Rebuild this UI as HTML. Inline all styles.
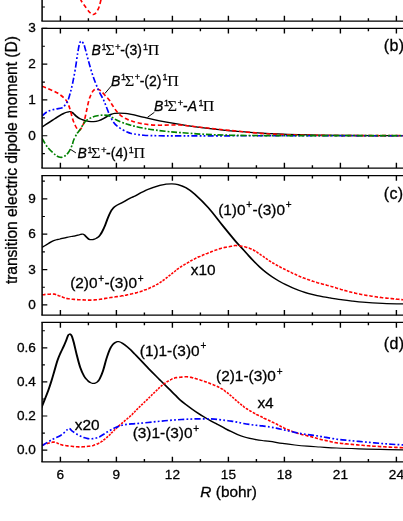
<!DOCTYPE html>
<html><head><meta charset="utf-8"><title>chart</title><style>html,body{margin:0;padding:0;background:#fff;}body{width:403px;height:521px;overflow:hidden;font-family:"Liberation Sans",sans-serif;}</style></head><body>
<svg width="403" height="521" viewBox="0 0 403 521" style="display:block;will-change:transform;opacity:0.999">
<rect width="403" height="521" fill="#fff"/>
<defs>
<clipPath id="cpa"><rect x="42.10" y="-118.50" width="372.90" height="139.50"/></clipPath>
<clipPath id="cpb"><rect x="42.10" y="28.40" width="372.90" height="139.60"/></clipPath>
<clipPath id="cpc"><rect x="42.10" y="175.65" width="372.90" height="139.55"/></clipPath>
<clipPath id="cpd"><rect x="42.10" y="322.45" width="372.90" height="139.45"/></clipPath>
</defs>
<path d="M78.30 -8.00 C78.72 -6.67 79.53 -2.57 80.80 0.00 C82.07 2.57 84.43 5.37 85.90 7.40 C87.37 9.43 88.62 11.10 89.60 12.20 C90.58 13.30 91.18 13.62 91.80 14.00 C92.42 14.38 92.80 14.52 93.30 14.50 C93.80 14.48 94.25 14.33 94.80 13.90 C95.35 13.47 95.95 12.88 96.60 11.90 C97.25 10.92 98.15 9.32 98.70 8.00 C99.25 6.68 99.53 5.33 99.90 4.00 C100.27 2.67 100.45 2.00 100.90 0.00 C101.35 -2.00 102.32 -6.67 102.60 -8.00" fill="none" stroke="#ff0000" stroke-width="1.65" stroke-dasharray="4.2 2.6" clip-path="url(#cpa)" stroke-linejoin="round"/>
<g clip-path="url(#cpb)"><g transform="scale(1 0.62500)"><path d="M42.00 203.36 C42.83 202.48 45.27 199.89 47.00 198.08 C48.73 196.27 50.73 194.21 52.40 192.48 C54.07 190.75 55.55 189.17 57.00 187.68 C58.45 186.19 59.93 184.59 61.10 183.52 C62.27 182.45 63.07 181.92 64.00 181.28 C64.93 180.64 65.95 180.08 66.70 179.68 C67.45 179.28 67.98 179.07 68.50 178.88 C69.02 178.69 69.38 178.53 69.80 178.56 C70.22 178.59 70.58 178.80 71.00 179.04 C71.42 179.28 71.80 179.44 72.30 180.00 C72.80 180.56 73.38 181.47 74.00 182.40 C74.62 183.33 75.00 184.32 76.00 185.60 C77.00 186.88 78.72 188.99 80.00 190.08 C81.28 191.17 82.25 191.49 83.70 192.16 C85.15 192.83 87.05 193.65 88.70 194.08 C90.35 194.51 91.95 194.85 93.60 194.72 C95.25 194.59 96.93 194.11 98.60 193.28 C100.27 192.45 102.15 190.99 103.60 189.76 C105.05 188.53 106.07 187.04 107.30 185.92 C108.53 184.80 109.77 183.79 111.00 183.04 C112.23 182.29 113.25 181.81 114.70 181.44 C116.15 181.07 118.03 180.80 119.70 180.80 C121.37 180.80 122.98 181.12 124.70 181.44 C126.42 181.76 127.50 181.95 130.00 182.72 C132.50 183.49 136.43 184.88 139.70 186.08 C142.97 187.28 146.28 188.72 149.60 189.92 C152.92 191.12 156.28 192.21 159.60 193.28 C162.92 194.35 166.10 195.36 169.50 196.32 C172.90 197.28 175.00 197.81 180.00 199.04 C185.00 200.27 190.47 201.87 199.50 203.68 C208.53 205.49 222.45 208.24 234.20 209.92 C245.95 211.60 257.37 212.77 270.00 213.76 C282.63 214.75 296.67 215.36 310.00 215.84 C323.33 216.32 334.50 216.43 350.00 216.64 C365.50 216.85 392.00 217.04 403.00 217.12 C414.00 217.20 413.83 217.12 416.00 217.12" fill="none" stroke="#000" stroke-width="2.00" stroke-linejoin="round"/></g></g>
<path d="M42.00 86.20 C42.83 86.53 45.27 87.48 47.00 88.20 C48.73 88.92 50.73 89.73 52.40 90.50 C54.07 91.27 55.55 91.97 57.00 92.80 C58.45 93.63 59.93 94.63 61.10 95.50 C62.27 96.37 63.07 97.07 64.00 98.00 C64.93 98.93 65.98 100.02 66.70 101.10 C67.42 102.18 67.78 103.27 68.30 104.50 C68.82 105.73 69.30 106.92 69.80 108.50 C70.30 110.08 70.78 112.13 71.30 114.00 C71.82 115.87 72.28 117.87 72.90 119.70 C73.52 121.53 74.28 123.45 75.00 125.00 C75.72 126.55 76.60 128.13 77.20 129.00 C77.80 129.87 78.13 130.03 78.60 130.20 C79.07 130.37 79.43 130.53 80.00 130.00 C80.57 129.47 81.33 128.30 82.00 127.00 C82.67 125.70 83.25 124.87 84.00 122.20 C84.75 119.53 85.67 114.72 86.50 111.00 C87.33 107.28 88.27 102.57 89.00 99.90 C89.73 97.23 90.23 96.48 90.90 95.00 C91.57 93.52 92.32 91.95 93.00 91.00 C93.68 90.05 94.37 89.65 95.00 89.30 C95.63 88.95 96.13 88.85 96.80 88.90 C97.47 88.95 98.22 89.17 99.00 89.60 C99.78 90.03 100.58 90.63 101.50 91.50 C102.42 92.37 103.22 93.38 104.50 94.80 C105.78 96.22 107.90 98.30 109.20 100.00 C110.50 101.70 111.17 103.25 112.30 105.00 C113.43 106.75 114.77 108.90 116.00 110.50 C117.23 112.10 118.47 113.45 119.70 114.60 C120.93 115.75 122.17 116.63 123.40 117.40 C124.63 118.17 126.00 118.70 127.10 119.20 C128.20 119.70 128.90 119.98 130.00 120.40 C131.10 120.82 131.75 121.17 133.70 121.70 C135.65 122.23 139.05 123.10 141.70 123.60 C144.35 124.10 146.62 124.43 149.60 124.70 C152.58 124.97 156.28 125.15 159.60 125.20 C162.92 125.25 166.10 125.03 169.50 125.00 C172.90 124.97 176.25 124.78 180.00 125.00 C183.75 125.22 186.68 125.72 192.00 126.30 C197.32 126.88 205.57 127.82 211.90 128.50 C218.23 129.18 220.32 129.48 230.00 130.40 C239.68 131.32 256.67 133.20 270.00 134.00 C283.33 134.80 296.67 134.93 310.00 135.20 C323.33 135.47 334.50 135.52 350.00 135.60 C365.50 135.68 392.00 135.68 403.00 135.70 C414.00 135.72 413.83 135.70 416.00 135.70" fill="none" stroke="#ff0000" stroke-width="1.65" stroke-dasharray="4.2 2.6" clip-path="url(#cpb)" stroke-linejoin="round"/>
<path d="M42.00 116.00 C42.90 115.27 45.25 112.73 47.40 111.60 C49.55 110.47 52.52 109.82 54.90 109.20 C57.28 108.58 60.05 108.53 61.70 107.90 C63.35 107.27 63.77 106.63 64.80 105.40 C65.83 104.17 66.97 102.67 67.90 100.50 C68.83 98.33 69.57 95.50 70.40 92.40 C71.23 89.30 72.07 85.90 72.90 81.90 C73.73 77.90 74.60 73.22 75.40 68.40 C76.20 63.58 77.05 56.98 77.70 53.00 C78.35 49.02 78.87 46.37 79.30 44.50 C79.73 42.63 80.00 42.37 80.30 41.80 C80.60 41.23 80.82 41.15 81.10 41.10 C81.38 41.05 81.65 41.15 82.00 41.50 C82.35 41.85 82.77 42.38 83.20 43.20 C83.63 44.02 83.73 43.48 84.60 46.40 C85.47 49.32 87.00 55.75 88.40 60.70 C89.80 65.65 91.33 71.23 93.00 76.10 C94.67 80.97 96.63 85.92 98.40 89.90 C100.17 93.88 102.32 97.28 103.60 100.00 C104.88 102.72 105.28 104.13 106.10 106.20 C106.92 108.27 107.68 110.43 108.50 112.40 C109.32 114.37 110.07 116.23 111.00 118.00 C111.93 119.77 113.07 121.65 114.10 123.00 C115.13 124.35 115.85 125.02 117.20 126.10 C118.55 127.18 120.55 128.52 122.20 129.50 C123.85 130.48 125.80 131.40 127.10 132.00 C128.40 132.60 128.90 132.78 130.00 133.10 C131.10 133.42 131.42 133.55 133.70 133.90 C135.98 134.25 139.38 134.88 143.70 135.20 C148.02 135.52 153.55 135.70 159.60 135.80 C165.65 135.90 168.27 135.80 180.00 135.80 C191.73 135.80 192.83 135.82 230.00 135.80 C267.17 135.78 372.00 135.72 403.00 135.70 C434.00 135.68 413.83 135.70 416.00 135.70" fill="none" stroke="#0000ff" stroke-width="1.65" stroke-dasharray="6.2 2.2 1.8 2.2 1.8 2.2" clip-path="url(#cpb)" stroke-linejoin="round"/>
<path d="M42.00 138.30 C42.90 139.75 45.25 144.30 47.40 147.00 C49.55 149.70 52.97 152.83 54.90 154.50 C56.83 156.17 57.75 156.53 59.00 157.00 C60.25 157.47 61.32 157.55 62.40 157.30 C63.48 157.05 64.57 156.23 65.50 155.50 C66.43 154.77 67.17 154.00 68.00 152.90 C68.83 151.80 69.75 150.38 70.50 148.90 C71.25 147.42 71.97 145.48 72.50 144.00 C73.03 142.52 72.92 141.78 73.70 140.00 C74.48 138.22 76.15 135.00 77.20 133.30 C78.25 131.60 78.92 131.42 80.00 129.80 C81.08 128.18 82.47 125.28 83.70 123.60 C84.93 121.92 85.95 120.77 87.40 119.70 C88.85 118.63 90.73 117.85 92.40 117.20 C94.07 116.55 95.75 116.15 97.40 115.80 C99.05 115.45 100.65 115.17 102.30 115.10 C103.95 115.03 105.85 115.13 107.30 115.40 C108.75 115.67 109.55 115.98 111.00 116.70 C112.45 117.42 114.35 118.82 116.00 119.70 C117.65 120.58 119.25 121.32 120.90 122.00 C122.55 122.68 124.38 123.30 125.90 123.80 C127.42 124.30 128.37 124.55 130.00 125.00 C131.63 125.45 133.08 125.90 135.70 126.50 C138.32 127.10 142.38 128.00 145.70 128.60 C149.02 129.20 151.97 129.62 155.60 130.10 C159.23 130.58 163.43 131.08 167.50 131.50 C171.57 131.92 173.85 132.13 180.00 132.60 C186.15 133.07 196.07 133.87 204.40 134.30 C212.73 134.73 219.07 134.98 230.00 135.20 C240.93 135.42 241.17 135.52 270.00 135.60 C298.83 135.68 378.67 135.68 403.00 135.70 C427.33 135.72 413.83 135.70 416.00 135.70" fill="none" stroke="#008000" stroke-width="1.65" stroke-dasharray="6 2 1.8 1.8" clip-path="url(#cpb)" stroke-linejoin="round"/>
<g clip-path="url(#cpc)"><g transform="scale(1 0.62500)"><path d="M41.80 396.00 C42.62 395.23 45.33 392.69 46.70 391.36 C48.07 390.03 48.88 389.01 50.00 388.00 C51.12 386.99 52.32 386.00 53.40 385.28 C54.48 384.56 55.38 384.16 56.50 383.68 C57.62 383.20 58.38 383.04 60.10 382.40 C61.82 381.76 64.57 380.61 66.80 379.84 C69.03 379.07 71.63 378.35 73.50 377.76 C75.37 377.17 76.87 376.75 78.00 376.32 C79.13 375.89 79.63 375.49 80.30 375.20 C80.97 374.91 81.48 374.61 82.00 374.56 C82.52 374.51 82.95 374.59 83.40 374.88 C83.85 375.17 84.22 375.63 84.70 376.32 C85.18 377.01 85.75 378.16 86.30 379.04 C86.85 379.92 87.48 380.93 88.00 381.60 C88.52 382.27 88.92 382.72 89.40 383.04 C89.88 383.36 90.33 383.47 90.90 383.52 C91.47 383.57 92.17 383.55 92.80 383.36 C93.43 383.17 94.07 382.80 94.70 382.40 C95.33 382.00 95.97 381.55 96.60 380.96 C97.23 380.37 97.88 379.79 98.50 378.88 C99.12 377.97 99.70 376.85 100.30 375.52 C100.90 374.19 101.28 373.44 102.10 370.88 C102.92 368.32 104.20 364.03 105.20 360.16 C106.20 356.29 107.13 351.41 108.10 347.68 C109.07 343.95 110.20 340.11 111.00 337.76 C111.80 335.41 112.27 334.80 112.90 333.60 C113.53 332.40 114.03 331.52 114.80 330.56 C115.57 329.60 116.57 328.67 117.50 327.84 C118.43 327.01 118.32 327.36 120.40 325.60 C122.48 323.84 127.77 319.15 130.00 317.28 C132.23 315.41 130.85 316.72 133.80 314.40 C136.75 312.08 143.37 306.32 147.70 303.36 C152.03 300.40 156.75 298.08 159.80 296.64 C162.85 295.20 163.97 295.15 166.00 294.72 C168.03 294.29 170.00 293.97 172.00 294.08 C174.00 294.19 175.67 294.29 178.00 295.36 C180.33 296.43 183.22 297.95 186.00 300.48 C188.78 303.01 190.93 305.17 194.70 310.56 C198.47 315.95 203.97 324.45 208.60 332.80 C213.23 341.15 218.10 351.95 222.50 360.64 C226.90 369.33 231.88 379.09 235.00 384.96 C238.12 390.83 239.13 392.19 241.20 395.84 C243.27 399.49 245.33 403.25 247.40 406.88 C249.47 410.51 251.53 414.19 253.60 417.60 C255.67 421.01 257.73 424.32 259.80 427.36 C261.87 430.40 263.93 433.23 266.00 435.84 C268.07 438.45 270.03 440.72 272.20 443.04 C274.37 445.36 276.78 447.71 279.00 449.76 C281.22 451.81 283.27 453.57 285.50 455.36 C287.73 457.15 290.22 458.96 292.40 460.48 C294.58 462.00 296.53 463.25 298.60 464.48 C300.67 465.71 302.73 466.80 304.80 467.84 C306.87 468.88 308.93 469.84 311.00 470.72 C313.07 471.60 315.13 472.40 317.20 473.12 C319.27 473.84 321.27 474.44 323.40 475.04 C325.53 475.64 326.75 475.92 330.00 476.72 C333.25 477.52 339.10 479.00 342.90 479.84 C346.70 480.68 349.50 481.17 352.80 481.76 C356.10 482.35 357.73 482.77 362.70 483.36 C367.67 483.95 375.88 484.77 382.60 485.28 C389.32 485.79 397.43 486.16 403.00 486.40 C408.57 486.64 413.83 486.67 416.00 486.72" fill="none" stroke="#000" stroke-width="2.00" stroke-linejoin="round"/></g></g>
<path d="M42.0 294.8L42.1 294.7L43.0 294.7L44.2 294.6L45.5 294.4M47.4 294.3L47.6 294.3L48.8 294.2L50.1 294.1L51.0 294.0M52.9 294.0L52.9 294.0L54.1 294.1L55.2 294.3L56.1 294.7M57.5 295.3L57.5 295.3L58.8 295.8L59.9 296.1L60.4 296.3M61.8 296.9L61.9 296.9L63.0 297.3L64.2 297.7L64.7 297.9M66.4 298.3L66.6 298.4L68.0 298.7L69.0 298.8L69.7 298.9M71.6 299.2L71.6 299.2L72.9 299.3L74.1 299.4L75.1 299.5M77.0 299.6L77.1 299.6L78.4 299.7L79.6 299.8L80.6 299.8M82.5 299.9L82.5 299.9L83.7 299.9L84.9 300.0L86.0 300.0M87.9 300.1L87.9 300.1L89.2 300.1L90.4 300.1L91.5 300.0M93.4 300.0L93.6 300.0L94.8 299.9L96.0 299.8L97.0 299.7M98.8 299.5L99.0 299.5L100.2 299.3L101.4 299.1L102.2 299.0M104.0 298.6L104.1 298.6L105.3 298.4L106.5 298.2L107.4 298.0M109.2 297.7L109.3 297.7L110.5 297.5L111.7 297.4L112.6 297.2M114.4 297.0L114.5 297.0L115.7 296.8L117.0 296.6L117.9 296.5M119.7 296.2L119.8 296.2L121.0 296.0L122.0 295.8L123.1 295.7L123.1 295.6M124.9 295.3L124.9 295.3L126.3 295.1L127.5 294.8L128.2 294.7M129.9 294.3L130.0 294.3L131.0 294.0L132.0 293.8L133.2 293.5M134.9 293.1L134.9 293.1L136.0 292.9L137.1 292.6L138.0 292.3M139.6 291.8L139.8 291.8L140.9 291.4L142.1 291.0L142.6 290.8M144.1 290.3L144.2 290.2L145.3 289.8L146.5 289.4L146.9 289.2M148.3 288.6L148.4 288.6L149.6 288.1L150.7 287.6L151.0 287.5M152.3 286.8L152.4 286.8L153.5 286.3L154.7 285.7L154.9 285.6M156.2 285.0L156.3 284.9L157.2 284.4L158.4 283.7L158.5 283.6M159.6 282.9L159.7 282.8L160.6 282.2L161.6 281.5L161.6 281.5M162.6 280.7L162.7 280.7L163.7 280.0L164.6 279.3L164.6 279.3M165.7 278.5L165.7 278.5L166.8 277.7L167.6 277.1M168.6 276.3L168.7 276.2L169.7 275.5L170.4 274.8M171.4 274.1L171.5 274.0L172.5 273.1L173.2 272.6M174.2 271.8L174.2 271.8L175.2 271.0L176.0 270.3M177.0 269.6L177.0 269.5L177.9 268.8L178.9 268.1L178.9 268.1M180.0 267.4L180.1 267.3L181.0 266.7L182.0 266.1L182.2 266.0M183.3 265.3L183.4 265.2L184.5 264.6L185.6 263.9M186.8 263.2L186.9 263.2L187.9 262.6L189.0 262.0L189.1 261.9M190.3 261.2L190.4 261.1L191.5 260.5L192.6 259.9L192.6 259.9M193.9 259.2L194.0 259.2L195.1 258.6L196.2 258.1L196.4 258.0M197.7 257.4L197.8 257.3L199.0 256.8L200.1 256.4L200.4 256.2M201.8 255.6L201.9 255.6L203.0 255.1L204.2 254.6L204.5 254.5M205.9 253.9L206.0 253.8L207.2 253.4L208.3 252.9L208.7 252.8M210.1 252.2L210.2 252.2L211.3 251.7L212.5 251.3L212.9 251.1M214.4 250.5L214.5 250.5L215.7 250.1L216.8 249.7L217.3 249.5M218.8 249.0L218.9 249.0L220.1 248.6L221.3 248.3L221.9 248.1M223.6 247.7L223.6 247.7L224.8 247.4L226.0 247.2L226.9 247.0M228.7 246.7L228.8 246.7L230.0 246.5L231.1 246.3L232.1 246.2M233.7 245.7L233.7 245.7L235.0 245.5L236.0 245.5L237.2 245.6L237.2 245.6M239.1 245.8L239.1 245.8L240.4 246.0L241.6 246.2L242.5 246.3M244.2 246.7L244.4 246.7L245.6 247.1L246.8 247.4L247.3 247.6M248.8 248.1L248.9 248.1L250.0 248.6L251.2 249.0L251.6 249.2M252.9 249.9L253.0 249.9L254.1 250.5L255.2 251.1L255.3 251.2M256.4 251.9L256.5 251.9L257.6 252.6L258.5 253.3M259.6 254.0L259.8 254.1L260.8 254.8L261.7 255.4M262.8 256.2L262.8 256.2L263.8 256.9L264.8 257.6M265.9 258.3L266.0 258.4L267.0 259.1L267.9 259.7M269.0 260.5L269.1 260.6L270.1 261.3L271.1 261.9M272.2 262.6L272.4 262.7L273.4 263.3L274.5 263.9M275.7 264.6L275.8 264.7L276.9 265.3L277.9 265.8L278.1 265.9M279.3 266.6L279.4 266.6L280.5 267.2L281.5 267.7L281.8 267.8M283.1 268.5L283.1 268.5L284.2 269.1L285.3 269.6L285.6 269.7M286.9 270.4L286.9 270.4L288.0 271.0L289.2 271.5L289.4 271.6M290.7 272.3L290.8 272.3L291.9 272.9L293.0 273.4L293.2 273.5M294.6 274.1L294.6 274.1L295.7 274.6L296.8 275.1L297.2 275.3M298.6 275.9L298.8 276.0L299.9 276.5L301.0 276.9L301.3 277.0M302.8 277.6L302.9 277.7L304.0 278.1L305.2 278.5L305.6 278.7M307.1 279.2L307.3 279.3L308.5 279.7L309.6 280.0L310.1 280.2M311.7 280.7L311.8 280.8L312.9 281.2L314.1 281.6L314.6 281.7M316.1 282.3L316.2 282.3L317.4 282.7L318.5 283.0L319.2 283.2M320.8 283.6L320.9 283.6L322.0 283.9L323.2 284.2L324.0 284.5M325.6 284.9L325.8 284.9L326.8 285.2L328.0 285.5L328.7 285.7M330.4 286.2L330.5 286.2L331.4 286.5L332.5 286.8L333.4 287.1M335.0 287.6L335.1 287.6L336.3 288.0L337.6 288.4L338.1 288.5M339.7 289.0L339.9 289.0L341.1 289.4L342.2 289.7L342.8 289.9M344.4 290.3L344.6 290.4L345.8 290.7L347.0 291.1L347.5 291.2M349.2 291.7L349.2 291.7L350.3 292.0L351.5 292.3L352.3 292.5M354.0 292.9L354.2 292.9L355.4 293.2L356.6 293.5L357.3 293.6M359.0 294.0L359.1 294.0L360.3 294.2L361.5 294.5L362.3 294.6M364.1 295.0L364.3 295.0L365.5 295.2L366.7 295.4L367.5 295.5M369.3 295.8L369.4 295.8L370.6 296.0L371.8 296.2L372.7 296.3M374.6 296.6L374.6 296.6L375.8 296.8L377.0 297.0L378.0 297.1M379.8 297.3L380.0 297.4L381.2 297.5L382.4 297.7L383.3 297.8M385.2 298.0L385.2 298.0L386.4 298.1L387.6 298.2L388.7 298.3M390.5 298.5L390.6 298.5L391.9 298.6L393.1 298.8L394.1 298.9M395.9 299.0L396.0 299.1L397.2 299.2L398.4 299.3L399.5 299.4M401.3 299.6L401.5 299.6L402.8 299.7L404.0 299.8L404.9 299.8M406.8 300.0L406.8 300.0L408.2 300.1L409.6 300.2L410.3 300.2M412.2 300.3L412.3 300.4L413.5 300.4L414.5 300.5L415.4 300.6L415.8 300.6" fill="none" stroke="#ff0000" stroke-width="1.6" clip-path="url(#cpc)"/>
<g clip-path="url(#cpd)"><g transform="scale(1 0.62500)"><path d="M41.40 652.80 C41.52 652.27 41.47 652.19 42.10 649.60 C42.73 647.01 44.17 641.44 45.20 637.28 C46.23 633.12 47.28 629.15 48.30 624.64 C49.32 620.13 50.28 615.44 51.30 610.24 C52.32 605.04 53.37 599.04 54.40 593.44 C55.43 587.84 56.48 581.41 57.50 576.64 C58.52 571.87 59.48 568.51 60.50 564.80 C61.52 561.09 62.73 557.44 63.60 554.40 C64.47 551.36 64.98 549.39 65.70 546.56 C66.42 543.73 67.37 539.33 67.90 537.44 C68.43 535.55 68.60 535.71 68.90 535.20 C69.20 534.69 69.42 534.43 69.70 534.40 C69.98 534.37 70.27 534.53 70.60 535.04 C70.93 535.55 71.33 536.21 71.70 537.44 C72.07 538.67 72.43 540.53 72.80 542.40 C73.17 544.27 73.23 544.35 73.90 548.64 C74.57 552.93 75.75 561.63 76.80 568.16 C77.85 574.69 78.97 582.16 80.20 587.84 C81.43 593.52 82.90 598.67 84.20 602.24 C85.50 605.81 86.95 607.63 88.00 609.28 C89.05 610.93 89.75 611.47 90.50 612.16 C91.25 612.85 91.83 613.25 92.50 613.44 C93.17 613.63 93.87 613.49 94.50 613.28 C95.13 613.07 95.72 612.72 96.30 612.16 C96.88 611.60 97.42 610.99 98.00 609.92 C98.58 608.85 98.97 608.53 99.80 605.76 C100.63 602.99 101.88 598.64 103.00 593.28 C104.12 587.92 105.38 579.25 106.50 573.60 C107.62 567.95 108.68 563.04 109.70 559.36 C110.72 555.68 111.57 553.49 112.60 551.52 C113.63 549.55 115.05 548.32 115.90 547.52 C116.75 546.72 117.13 546.83 117.70 546.72 C118.27 546.61 118.52 546.45 119.30 546.88 C120.08 547.31 121.02 547.84 122.40 549.28 C123.78 550.72 126.17 553.68 127.60 555.52 C129.03 557.36 129.77 558.43 131.00 560.32 C132.23 562.21 133.52 564.43 135.00 566.88 C136.48 569.33 137.43 570.89 139.90 575.04 C142.38 579.19 146.53 586.32 149.85 591.76 C153.17 597.20 156.66 602.65 159.80 607.68 C162.94 612.71 166.17 617.92 168.70 621.92 C171.23 625.92 173.12 628.72 175.00 631.68 C176.88 634.64 178.17 637.07 180.00 639.68 C181.83 642.29 183.93 644.83 186.00 647.36 C188.07 649.89 190.32 652.51 192.40 654.88 C194.48 657.25 196.43 659.44 198.50 661.60 C200.57 663.76 202.72 665.84 204.80 667.84 C206.88 669.84 208.93 671.79 211.00 673.60 C213.07 675.41 214.87 676.75 217.20 678.72 C219.53 680.69 222.67 683.47 225.00 685.44 C227.33 687.41 229.13 688.93 231.20 690.56 C233.27 692.19 235.33 693.81 237.40 695.20 C239.47 696.59 241.53 697.84 243.60 698.88 C245.67 699.92 247.73 700.69 249.80 701.44 C251.87 702.19 253.93 702.80 256.00 703.36 C258.07 703.92 259.87 704.32 262.20 704.80 C264.53 705.28 266.63 705.47 270.00 706.24 C273.37 707.01 278.27 708.48 282.40 709.44 C286.53 710.40 290.67 711.25 294.80 712.00 C298.93 712.75 303.00 713.39 307.20 713.92 C311.40 714.45 315.07 714.72 320.00 715.20 C324.93 715.68 330.35 716.32 336.80 716.80 C343.25 717.28 351.42 717.71 358.70 718.08 C365.98 718.45 373.12 718.76 380.50 719.04 C387.88 719.32 397.08 719.60 403.00 719.76 C408.92 719.92 413.83 719.96 416.00 720.00" fill="none" stroke="#000" stroke-width="2.00" stroke-linejoin="round"/></g></g>
<path d="M42.0 445.1L42.1 445.1L42.9 444.8L44.0 444.5L45.1 444.2M46.7 443.7L46.7 443.7L48.1 443.3L49.4 443.0L49.8 442.9M51.5 442.4L51.7 442.4L52.8 442.1L53.8 442.0L54.8 442.1M56.4 442.6L56.4 442.6L57.4 443.1L58.5 443.7L58.8 443.9M60.2 444.5L60.3 444.5L61.5 444.8L62.6 445.1L63.4 445.2M65.2 445.5L65.3 445.5L66.5 445.7L67.8 445.9L68.7 446.0M70.6 446.2L70.7 446.2L71.8 446.3L73.0 446.5L74.1 446.6M75.9 446.7L76.1 446.7L77.3 446.8L78.5 446.9L79.5 446.9M81.4 446.9L81.6 446.9L82.9 446.8L84.2 446.7L85.0 446.6M86.8 446.5L86.9 446.5L88.1 446.3L89.2 446.2L90.3 446.0M92.1 445.7L92.2 445.7L93.3 445.4L94.3 445.0L95.1 444.8M96.7 444.3L96.8 444.2L97.8 443.8L99.0 443.2L99.3 443.1M100.4 442.3L100.5 442.3L101.4 441.7L102.4 441.0L102.4 440.9M103.4 440.2L103.5 440.1L104.6 439.3L105.3 438.7M106.3 437.9L106.4 437.8L107.4 436.9L108.0 436.4M108.9 435.6L109.0 435.5L109.9 434.7L110.5 434.1M111.3 433.3L111.3 433.2L112.2 432.3L112.8 431.7M113.6 430.9L113.6 430.9L114.5 430.0L115.1 429.3M116.0 428.5L116.1 428.5L117.0 427.6L117.7 427.0M118.6 426.2L118.6 426.1L119.5 425.3L120.3 424.7M121.2 423.9L121.2 423.9L122.1 423.1L122.9 422.4M123.8 421.6L124.0 421.5L124.9 420.7L125.6 420.1M126.5 419.3L126.5 419.3L127.5 418.5L128.3 417.8M129.2 417.0L129.3 417.0L130.2 416.2L130.9 415.5M131.8 414.7L131.9 414.7L132.8 413.7L133.4 413.2M134.1 412.4L134.2 412.3L135.0 411.5L135.6 410.8M136.4 410.0L136.5 409.9L137.4 409.0L138.0 408.4M138.8 407.6L138.9 407.5L139.8 406.7L140.4 406.1M141.2 405.3L141.3 405.2L142.2 404.4L142.8 403.7M143.7 402.9L143.7 402.9L144.6 402.0L145.3 401.4M146.1 400.6L146.3 400.4L147.2 399.6L147.7 399.0M148.6 398.2L148.7 398.1L149.5 397.3L150.1 396.7M151.0 395.9L151.0 395.9L151.8 395.0L152.5 394.3M153.3 393.5L153.4 393.4L154.3 392.6L154.9 392.0M155.8 391.2L155.9 391.1L156.8 390.2L157.4 389.6M158.2 388.8L158.3 388.8L159.1 387.9L159.9 387.3M160.8 386.5L160.8 386.5L161.7 385.7L162.5 385.0M163.5 384.2L163.6 384.2L164.7 383.4L165.5 382.8M166.6 382.1L166.7 382.0L167.7 381.4L168.7 380.8L168.8 380.7M170.0 380.0L170.1 380.0L171.3 379.4L172.4 378.8L172.5 378.8M174.0 378.2L174.1 378.2L175.2 377.8L176.4 377.6L177.2 377.5M179.1 377.4L179.1 377.4L180.4 377.3L181.5 377.1L182.6 377.0M184.5 376.8L184.6 376.8L185.8 376.8L187.0 376.8L188.1 376.9M189.9 377.2L190.0 377.2L191.2 377.4L192.4 377.7L193.2 377.9M194.8 378.3L194.9 378.4L196.1 378.7L197.2 379.1L197.8 379.3M199.4 379.8L199.6 379.8L200.7 380.2L201.9 380.6L202.4 380.8M203.9 381.3L204.0 381.3L205.2 381.7L206.3 382.1L206.8 382.3M208.3 382.9L208.4 382.9L209.5 383.3L210.6 383.8L211.1 383.9M212.6 384.5L212.7 384.5L213.8 385.0L214.9 385.4L215.4 385.6M216.8 386.2L216.8 386.2L217.9 386.7L219.0 387.3L219.3 387.4M220.5 388.1L220.5 388.1L221.6 388.8L222.7 389.4L222.7 389.5M223.8 390.2L223.9 390.2L224.8 390.9L225.8 391.6L225.9 391.6M226.9 392.4L226.9 392.4L227.8 393.1L228.7 393.9M229.7 394.6L229.8 394.8L230.7 395.5L231.4 396.1M232.3 396.9L232.4 397.0L233.3 397.8L234.0 398.5M234.9 399.3L234.9 399.3L235.8 400.1L236.6 400.8M237.5 401.6L237.6 401.6L238.6 402.5L239.2 403.1M240.2 403.9L240.3 404.0L241.2 404.7L242.0 405.3M242.9 406.1L243.0 406.1L243.9 406.8L244.9 407.5M246.0 408.3L246.1 408.4L247.1 409.0L248.1 409.7M249.3 410.4L249.3 410.4L250.3 411.0L251.4 411.6L251.5 411.7M252.8 412.4L252.8 412.4L253.9 413.0L254.9 413.5L255.2 413.7M256.5 414.3L256.5 414.4L257.6 414.9L258.7 415.5L258.9 415.6M260.3 416.2L260.4 416.3L261.5 416.8L262.6 417.4L262.8 417.5M264.1 418.1L264.1 418.2L265.2 418.7L266.3 419.2L266.6 419.3M268.0 420.0L268.0 420.0L269.1 420.5L270.1 421.0L270.5 421.2M271.9 421.8L272.0 421.9L273.2 422.4L274.3 423.0L274.4 423.0M275.8 423.7L275.9 423.7L277.0 424.3L278.1 424.9L278.2 424.9M279.4 425.6L279.5 425.7L280.5 426.2L281.5 426.8L281.8 426.9M283.1 427.6L283.3 427.6L284.4 428.2L285.5 428.7L285.7 428.8M287.1 429.4L287.1 429.4L288.2 429.8L289.4 430.3L289.8 430.5M291.3 431.1L291.4 431.1L292.5 431.5L293.7 431.9L294.2 432.1M295.7 432.6L295.8 432.6L296.9 433.0L298.1 433.4L298.8 433.6M300.4 434.0L300.4 434.0L301.6 434.4L302.7 434.7L303.5 434.9M305.2 435.3L305.3 435.3L306.4 435.6L307.6 435.9L308.4 436.1M310.1 436.5L310.2 436.5L311.4 436.8L312.6 437.1L313.3 437.3M314.9 437.7L314.9 437.7L316.1 438.1L317.3 438.4L318.0 438.6M319.6 439.1L319.6 439.1L320.8 439.4L321.8 439.7L322.8 439.9M324.5 440.3L324.6 440.3L326.1 440.6L327.0 440.8L327.8 441.0M329.5 441.4L329.7 441.4L330.9 441.7L332.2 442.0L332.8 442.1M334.6 442.4L334.7 442.5L336.0 442.7L337.2 442.9L338.0 443.0M339.8 443.2L340.0 443.2L341.2 443.4L342.4 443.5L343.3 443.6M345.2 443.7L345.2 443.8L346.4 443.9L347.6 444.0L348.7 444.1M350.6 444.3L350.6 444.3L351.8 444.4L353.1 444.5L354.1 444.6M356.0 444.8L356.1 444.8L357.3 444.9L358.5 445.0L359.5 445.1M361.4 445.2L361.5 445.2L362.7 445.3L363.9 445.5L364.9 445.5M366.8 445.7L367.0 445.7L368.2 445.8L369.4 445.9L370.4 446.0M372.2 446.1L372.4 446.1L373.6 446.2L374.8 446.3L375.8 446.3M377.7 446.4L377.9 446.4L379.1 446.5L380.3 446.6L381.3 446.6M383.1 446.8L383.3 446.8L384.5 446.8L385.7 446.9L386.7 447.0M388.6 447.1L388.7 447.1L390.0 447.1L391.2 447.2L392.2 447.2M394.1 447.3L394.1 447.3L395.3 447.4L396.5 447.4L397.7 447.5M399.6 447.6L399.7 447.6L400.9 447.6L402.2 447.7L403.1 447.7M405.0 447.8L405.1 447.8L406.4 447.8L407.8 447.9L408.6 447.9M410.5 448.0L410.6 448.0L411.9 448.0L413.1 448.1L414.1 448.1" fill="none" stroke="#ff0000" stroke-width="1.6" clip-path="url(#cpd)"/>
<path d="M42.00 445.70 C43.65 444.70 48.73 441.45 51.90 439.70 C55.07 437.95 58.65 436.68 61.00 435.20 C63.35 433.72 64.88 431.80 66.00 430.80 C67.12 429.80 67.22 429.58 67.70 429.20 C68.18 428.82 68.48 428.53 68.90 428.50 C69.32 428.47 69.70 428.62 70.20 429.00 C70.70 429.38 70.62 429.83 71.90 430.80 C73.18 431.77 75.92 433.67 77.90 434.80 C79.88 435.93 82.12 436.97 83.80 437.60 C85.48 438.23 86.67 438.40 88.00 438.60 C89.33 438.80 90.55 438.87 91.80 438.80 C93.05 438.73 94.18 438.53 95.50 438.20 C96.82 437.87 97.68 437.87 99.70 436.80 C101.72 435.73 104.95 433.35 107.60 431.80 C110.25 430.25 112.95 428.65 115.60 427.50 C118.25 426.35 120.85 425.50 123.50 424.90 C126.15 424.30 128.75 424.17 131.50 423.90 C134.25 423.63 136.52 423.62 140.00 423.30 C143.48 422.98 148.27 422.42 152.40 422.00 C156.53 421.58 160.67 421.17 164.80 420.80 C168.93 420.43 173.07 420.08 177.20 419.80 C181.33 419.52 185.47 419.27 189.60 419.10 C193.73 418.93 197.87 418.80 202.00 418.80 C206.13 418.80 210.57 418.83 214.40 419.10 C218.23 419.37 222.20 420.07 225.00 420.40 C227.80 420.73 229.13 420.80 231.20 421.10 C233.27 421.40 235.33 421.80 237.40 422.20 C239.47 422.60 241.53 423.12 243.60 423.50 C245.67 423.88 247.73 424.20 249.80 424.50 C251.87 424.80 253.93 425.07 256.00 425.30 C258.07 425.53 259.87 425.62 262.20 425.90 C264.53 426.18 267.67 426.63 270.00 427.00 C272.33 427.37 274.13 427.68 276.20 428.10 C278.27 428.52 280.33 429.02 282.40 429.50 C284.47 429.98 286.53 430.52 288.60 431.00 C290.67 431.48 292.73 431.97 294.80 432.40 C296.87 432.83 298.93 433.25 301.00 433.60 C303.07 433.95 305.13 434.22 307.20 434.50 C309.27 434.78 311.27 435.00 313.40 435.30 C315.53 435.60 317.92 435.95 320.00 436.30 C322.08 436.65 323.10 436.92 325.90 437.40 C328.70 437.88 333.15 438.70 336.80 439.20 C340.45 439.70 344.15 440.03 347.80 440.40 C351.45 440.77 355.07 441.07 358.70 441.40 C362.33 441.73 365.97 442.07 369.60 442.40 C373.23 442.73 376.87 443.10 380.50 443.40 C384.13 443.70 387.65 443.95 391.40 444.20 C395.15 444.45 398.90 444.67 403.00 444.90 C407.10 445.13 413.83 445.48 416.00 445.60" fill="none" stroke="#0000ff" stroke-width="1.65" stroke-dasharray="6.2 2.2 1.8 2.2 1.8 2.2" clip-path="url(#cpd)" stroke-linejoin="round"/>
<path d="M41.35 -118.50H415.00M41.35 21.00H415.00M41.35 28.40H415.00M41.35 168.00H415.00M41.35 175.65H415.00M41.35 315.20H415.00M41.35 322.45H415.00M41.35 461.90H415.00" stroke="#000" stroke-width="1.25" fill="none"/>
<path d="M42.10 -118.50V21.00M415.00 -118.50V21.00M42.10 28.40V168.00M415.00 28.40V168.00M42.10 175.65V315.20M415.00 175.65V315.20M42.10 322.45V461.90M415.00 322.45V461.90" stroke="#000" stroke-width="1.50" fill="none"/>
<path d="M60.40 -118.50v5.20M60.40 21.00v-5.20M116.40 -118.50v5.20M116.40 21.00v-5.20M172.40 -118.50v5.20M172.40 21.00v-5.20M228.40 -118.50v5.20M228.40 21.00v-5.20M284.40 -118.50v5.20M284.40 21.00v-5.20M340.40 -118.50v5.20M340.40 21.00v-5.20M396.40 -118.50v5.20M396.40 21.00v-5.20M88.40 -118.50v2.80M88.40 21.00v-2.80M144.40 -118.50v2.80M144.40 21.00v-2.80M200.40 -118.50v2.80M200.40 21.00v-2.80M256.40 -118.50v2.80M256.40 21.00v-2.80M312.40 -118.50v2.80M312.40 21.00v-2.80M368.40 -118.50v2.80M368.40 21.00v-2.80M60.40 28.40v5.20M60.40 168.00v-5.20M116.40 28.40v5.20M116.40 168.00v-5.20M172.40 28.40v5.20M172.40 168.00v-5.20M228.40 28.40v5.20M228.40 168.00v-5.20M284.40 28.40v5.20M284.40 168.00v-5.20M340.40 28.40v5.20M340.40 168.00v-5.20M396.40 28.40v5.20M396.40 168.00v-5.20M88.40 28.40v2.80M88.40 168.00v-2.80M144.40 28.40v2.80M144.40 168.00v-2.80M200.40 28.40v2.80M200.40 168.00v-2.80M256.40 28.40v2.80M256.40 168.00v-2.80M312.40 28.40v2.80M312.40 168.00v-2.80M368.40 28.40v2.80M368.40 168.00v-2.80M60.40 175.65v5.20M60.40 315.20v-5.20M116.40 175.65v5.20M116.40 315.20v-5.20M172.40 175.65v5.20M172.40 315.20v-5.20M228.40 175.65v5.20M228.40 315.20v-5.20M284.40 175.65v5.20M284.40 315.20v-5.20M340.40 175.65v5.20M340.40 315.20v-5.20M396.40 175.65v5.20M396.40 315.20v-5.20M88.40 175.65v2.80M88.40 315.20v-2.80M144.40 175.65v2.80M144.40 315.20v-2.80M200.40 175.65v2.80M200.40 315.20v-2.80M256.40 175.65v2.80M256.40 315.20v-2.80M312.40 175.65v2.80M312.40 315.20v-2.80M368.40 175.65v2.80M368.40 315.20v-2.80M60.40 322.45v5.20M60.40 461.90v-5.20M116.40 322.45v5.20M116.40 461.90v-5.20M172.40 322.45v5.20M172.40 461.90v-5.20M228.40 322.45v5.20M228.40 461.90v-5.20M284.40 322.45v5.20M284.40 461.90v-5.20M340.40 322.45v5.20M340.40 461.90v-5.20M396.40 322.45v5.20M396.40 461.90v-5.20M88.40 322.45v2.80M88.40 461.90v-2.80M144.40 322.45v2.80M144.40 461.90v-2.80M200.40 322.45v2.80M200.40 461.90v-2.80M256.40 322.45v2.80M256.40 461.90v-2.80M312.40 322.45v2.80M312.40 461.90v-2.80M368.40 322.45v2.80M368.40 461.90v-2.80" stroke="#000" stroke-width="1.40" fill="none"/>
<path d="M42.10 7.00h2.80M42.10 28.40h5.20M42.10 64.17h5.20M42.10 99.94h5.20M42.10 135.71h5.20M42.10 46.28h2.80M42.10 82.06h2.80M42.10 117.83h2.80M42.10 153.59h2.80M42.10 198.80h5.20M42.10 234.18h5.20M42.10 269.56h5.20M42.10 304.94h5.20M42.10 181.10h2.80M42.10 216.48h2.80M42.10 251.86h2.80M42.10 287.24h2.80M42.10 347.80h5.20M42.10 381.90h5.20M42.10 416.00h5.20M42.10 450.10h5.20M42.10 330.75h2.80M42.10 364.85h2.80M42.10 398.95h2.80M42.10 433.05h2.80" stroke="#000" stroke-width="1.15" fill="none"/>
<g font-family="'Liberation Sans', sans-serif" font-size="13.6px" fill="#000" stroke="#000" stroke-width="0.3">
<text x="35.90" y="32.40" text-anchor="end">3</text>
<text x="35.90" y="68.17" text-anchor="end">2</text>
<text x="35.90" y="103.94" text-anchor="end">1</text>
<text x="35.90" y="139.71" text-anchor="end">0</text>
<text x="35.90" y="202.80" text-anchor="end">9</text>
<text x="35.90" y="238.18" text-anchor="end">6</text>
<text x="35.90" y="273.56" text-anchor="end">3</text>
<text x="35.90" y="308.94" text-anchor="end">0</text>
<text x="35.90" y="351.80" text-anchor="end">0.6</text>
<text x="35.90" y="385.90" text-anchor="end">0.4</text>
<text x="35.90" y="420.00" text-anchor="end">0.2</text>
<text x="35.90" y="454.10" text-anchor="end">0.0</text>
<text x="60.40" y="479.0" text-anchor="middle">6</text>
<text x="116.40" y="479.0" text-anchor="middle">9</text>
<text x="172.40" y="479.0" text-anchor="middle">12</text>
<text x="228.40" y="479.0" text-anchor="middle">15</text>
<text x="284.40" y="479.0" text-anchor="middle">18</text>
<text x="340.40" y="479.0" text-anchor="middle">21</text>
<text x="396.40" y="479.0" text-anchor="middle">24</text>
</g>
<g font-family="'Liberation Sans', sans-serif" font-size="15.4px" fill="#000" stroke="#000" stroke-width="0.3">
<text x="228.6" y="497.3" text-anchor="middle"><tspan font-style="italic">R</tspan> (bohr)</text>
<text transform="translate(16.5 284.1) rotate(-90)" font-size="15.7px" textLength="248.0" lengthAdjust="spacing">transition electric dipole moment (D)</text>
</g>
<g font-family="'Liberation Sans', sans-serif" font-size="14px" fill="#000" stroke="#000" stroke-width="0.3">
<text x="383.7" y="51.0" font-size="16px" letter-spacing="0.4">(b)</text>
<text x="383.7" y="199.0" font-size="16px" letter-spacing="0.4">(c)</text>
<text x="383.7" y="348.5" font-size="16px" letter-spacing="0.4">(d)</text>
<text x="91.58" y="54.90" font-size="14.0px" font-style="italic">B</text>
<text x="101.62" y="50.40" font-size="9.0px">1</text>
<text transform="translate(105.16 54.90) scale(1.170 1)" font-size="14.0px" font-family="'Liberation Serif', serif" stroke-width="0.1">&#931;</text>
<text x="115.37" y="50.40" font-size="9.0px">+</text>
<text x="120.18" y="54.90" font-size="14.0px">-(3)</text>
<text x="142.92" y="50.40" font-size="9.0px">1</text>
<text transform="translate(147.65 54.90) scale(1.140 1)" font-size="14.0px" font-family="'Liberation Serif', serif" stroke-width="0.1">&#928;</text>
<text x="111.08" y="85.90" font-size="14.0px" font-style="italic">B</text>
<text x="121.12" y="79.90" font-size="9.0px">1</text>
<text transform="translate(124.66 85.90) scale(1.170 1)" font-size="14.0px" font-family="'Liberation Serif', serif" stroke-width="0.1">&#931;</text>
<text x="134.87" y="79.90" font-size="9.0px">+</text>
<text x="139.68" y="85.90" font-size="14.0px">-(2)</text>
<text x="162.42" y="79.90" font-size="9.0px">1</text>
<text transform="translate(167.15 85.90) scale(1.140 1)" font-size="14.0px" font-family="'Liberation Serif', serif" stroke-width="0.1">&#928;</text>
<text x="153.98" y="111.20" font-size="14.0px" font-style="italic">B</text>
<text x="164.02" y="105.60" font-size="9.0px">1</text>
<text transform="translate(167.56 111.20) scale(1.170 1)" font-size="14.0px" font-family="'Liberation Serif', serif" stroke-width="0.1">&#931;</text>
<text x="177.77" y="105.60" font-size="9.0px">+</text>
<text x="183.08" y="111.20" font-size="14.0px">-</text>
<text x="187.80" y="111.20" font-size="14.0px" font-style="italic">A</text>
<text x="198.62" y="105.60" font-size="9.0px">1</text>
<text transform="translate(202.85 111.20) scale(1.140 1)" font-size="14.0px" font-family="'Liberation Serif', serif" stroke-width="0.1">&#928;</text>
<text x="77.48" y="158.10" font-size="14.0px" font-style="italic">B</text>
<text x="87.52" y="152.60" font-size="9.0px">1</text>
<text transform="translate(91.06 158.10) scale(1.170 1)" font-size="14.0px" font-family="'Liberation Serif', serif" stroke-width="0.1">&#931;</text>
<text x="101.27" y="152.60" font-size="9.0px">+</text>
<text x="106.08" y="158.10" font-size="14.0px">-(4)</text>
<text x="128.82" y="152.60" font-size="9.0px">1</text>
<text transform="translate(133.55 158.10) scale(1.140 1)" font-size="14.0px" font-family="'Liberation Serif', serif" stroke-width="0.1">&#928;</text>
<text x="218.15" y="214.60" font-size="15.4px">(1)0</text>
<text x="246.33" y="208.10" font-size="10.0px">+</text>
<text x="252.47" y="214.60" font-size="15.4px">-(3)0</text>
<text x="285.79" y="208.10" font-size="10.0px">+</text>
<text x="70.15" y="288.40" font-size="15.4px">(2)0</text>
<text x="98.33" y="281.90" font-size="10.0px">+</text>
<text x="104.47" y="288.40" font-size="15.4px">-(3)0</text>
<text x="137.79" y="281.90" font-size="10.0px">+</text>
<text x="190.83" y="274.70" font-size="15.4px">x10</text>
<text x="139.75" y="355.50" font-size="15.4px">(1)1-(3)0</text>
<text x="200.45" y="349.00" font-size="10.0px">+</text>
<text x="216.05" y="381.30" font-size="15.4px">(2)1-(3)0</text>
<text x="276.75" y="374.80" font-size="10.0px">+</text>
<text x="257.43" y="408.30" font-size="15.4px">x4</text>
<text x="74.83" y="429.50" font-size="15.4px">x20</text>
<text x="132.65" y="438.30" font-size="15.4px">(3)1-(3)0</text>
<text x="193.35" y="431.80" font-size="10.0px">+</text>
</g>
<path d="M111.6 85.6 L104.9 93.5 M154.4 112.3 L147.5 117.3 M70.5 149.4 L75.9 152.9" stroke="#000" stroke-width="1" fill="none"/>
</svg>
</body></html>
